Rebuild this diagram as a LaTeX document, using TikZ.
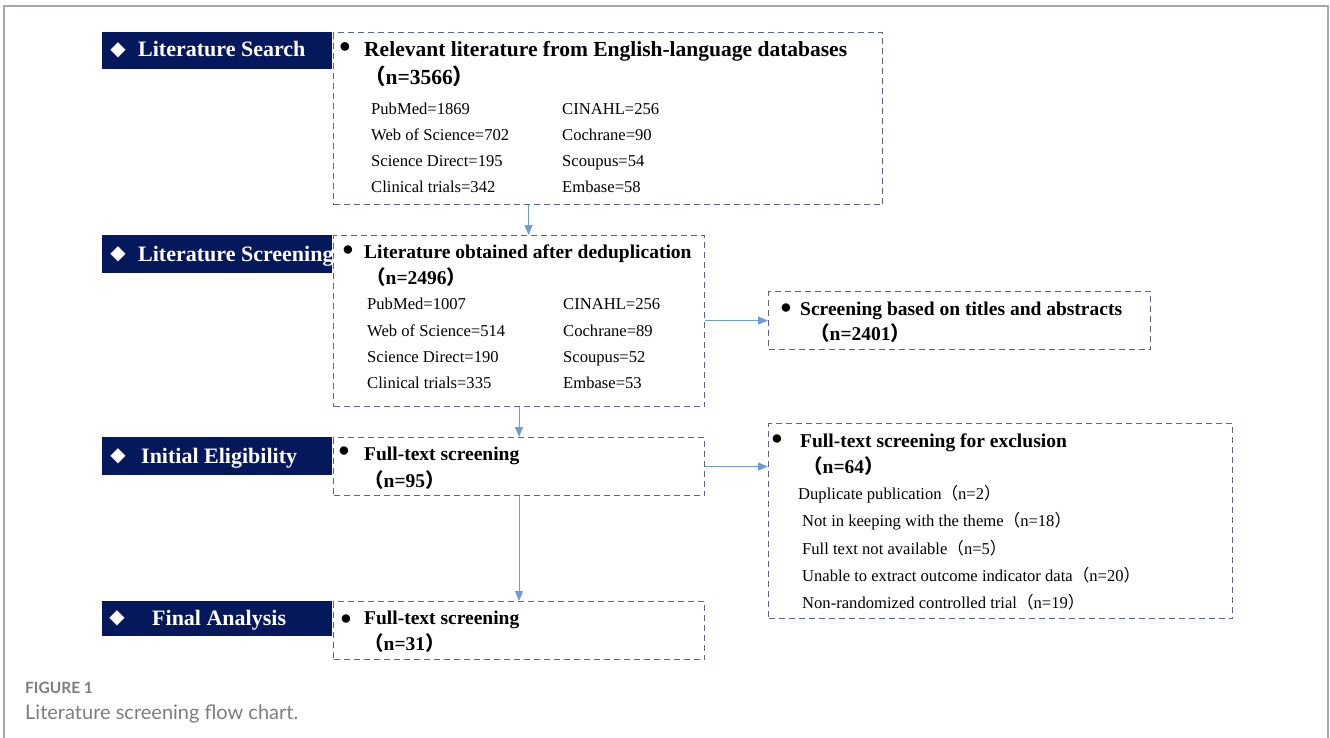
\documentclass[tikz,border=0pt]{standalone}
\usepackage{fontspec}
\setmainfont{Liberation Serif}
\newfontfamily\symfont{DejaVu Sans}
\newfontfamily\cjk{Noto Sans CJK SC}
\newfontfamily\capfont{Lato}
\usetikzlibrary{arrows.meta}
\definecolor{barblue}{RGB}{6,24,92}
\definecolor{dashblue}{RGB}{88,100,150}
\definecolor{arrowblue}{RGB}{112,156,214}
\definecolor{framegray}{RGB}{165,165,174}
\definecolor{capgray}{RGB}{125,125,125}
\newcommand{\fp}[1]{{\cjk （}#1{\cjk ）}}
\tikzset{%
  mybar/.style={fill=barblue, anchor=north west, minimum width=230, inner sep=0},
  mybox/.style={draw=dashblue, dash pattern=on 6pt off 4pt, line width=1.1pt, anchor=north west, inner sep=0},
  myedge/.style={-{Triangle[length=10pt,width=8pt]}, draw=arrowblue, fill=arrowblue, line width=1.1pt},
  mydiamond/.style={text=white, font=\symfont\fontsize{20}{24}\selectfont, inner sep=0},
  bartext/.style={anchor=base west, text=white, font=\fontsize{22}{26}\selectfont\bfseries, inner sep=0},
  headtext/.style={anchor=base west, font=\fontsize{19.5}{23}\selectfont\bfseries, inner sep=0},
  rowtext/.style={anchor=base west, font=\fontsize{16.6}{19}\selectfont, inner sep=0},
  mybullet/.style={font=\fontsize{19.5}{23}\selectfont, inner sep=0}
}
\begin{document}
\begin{tikzpicture}[x=1pt, y=-1pt]
\useasboundingbox (0,0) rectangle (1330,738);
\draw [framegray, line width=1.5pt] (4,738) -- (4,6) -- (1328,6) -- (1328,738);

\node (bsearch) [mybar, minimum height=37] at (102,32) {};
\node (bscreen) [mybar, minimum height=38] at (102,235) {};
\node (belig) [mybar, minimum height=38] at (102,437) {};
\node (bfinal) [mybar, minimum height=35] at (102,601) {};

\node (dsearch) [mydiamond] at (118,50) {◆};
\node (dscreen) [mydiamond] at (118,254) {◆};
\node (delig) [mydiamond] at (118,456) {◆};
\node (dfinal) [mydiamond] at (117,618) {◆};

\node (lsearch) [bartext] at (138,57) {Literature Search};
\node (lscreen) [bartext] at (138,261) {Literature Screening};
\node (lelig) [bartext] at (141,463) {Initial Eligibility};
\node (lfinal) [bartext] at (152,625) {Final Analysis};

\node (search) [mybox, minimum width=549, minimum height=172] at (333,32) {};
\node (dedup) [mybox, minimum width=371, minimum height=171] at (333,235) {};
\node (titles) [mybox, minimum width=382, minimum height=58] at (768,291) {};
\node (elig) [mybox, minimum width=371, minimum height=58] at (333,437) {};
\node (excl) [mybox, minimum width=464, minimum height=195] at (768,423) {};
\node (final) [mybox, minimum width=371, minimum height=58] at (333,601) {};

% box texts
\node (u1) [mybullet, font=\fontsize{32}{36}\selectfont\bfseries] at (345,50) {•};
\node (h1) [headtext, font=\fontsize{21.5}{25}\selectfont\bfseries] at (364,57) {Relevant literature from English-language databases};
\node (n1) [headtext, font=\fontsize{21.5}{25}\selectfont\bfseries] at (364,85) {\fp{n=3566}};
\foreach \t [count=\k] in {PubMed=1869, Web of Science=702, Science Direct=195, Clinical trials=342}
  \node (sa\k) [rowtext] at (371,{88.5+26*\k}) {\t};
\foreach \t [count=\k] in {CINAHL=256, Cochrane=90, Scoupus=54, Embase=58}
  \node (sb\k) [rowtext] at (562,{88.5+26*\k}) {\t};

\node (u2) [mybullet] at (348,251) {●};
\node (h2) [headtext] at (364,258) {Literature obtained after deduplication};
\node (n2) [headtext] at (366,284) {\fp{n=2496}};
\foreach \t [count=\k] in {PubMed=1007, Web of Science=514, Science Direct=190, Clinical trials=335}
  \node (da\k) [rowtext] at (367,{283.5+26.3*\k}) {\t};
\foreach \t [count=\k] in {CINAHL=256, Cochrane=89, Scoupus=52, Embase=53}
  \node (db\k) [rowtext] at (563,{283.5+26.3*\k}) {\t};

\node (u3) [mybullet] at (786,309) {●};
\node (h3) [headtext] at (800,315) {Screening based on titles and abstracts};
\node (n3) [headtext] at (810,340) {\fp{n=2401}};

\node (u4) [mybullet] at (344,452) {●};
\node (h4) [headtext] at (364,460) {Full-text screening};
\node (n4) [headtext] at (364,487) {\fp{n=95}};

\node (u5) [mybullet] at (777,440) {●};
\node (h5) [headtext] at (800,447) {Full-text screening for exclusion};
\node (n5) [headtext] at (803,473) {\fp{n=64}};
\node (ea1) [rowtext] at (798,499.5) {Duplicate publication\fp{n=2}};
\foreach \t [count=\k from 2] in {Not in keeping with the theme\fp{n=18}, Full text not available\fp{n=5}, Unable to extract outcome indicator data\fp{n=20}, Non-randomized controlled trial\fp{n=19}}
  \node (ea\k) [rowtext] at (802,{472.5+27.2*\k}) {\t};

\node (u6) [mybullet] at (346,620) {●};
\node (h6) [headtext] at (364,624) {Full-text screening};
\node (n6) [headtext] at (364,650) {\fp{n=31}};

\coordinate (a1) at ([xshift=9.5]dedup.north);
\draw [myedge] (search.south -| a1) -- (a1);
\draw [myedge] (dedup.east |- titles.west) -- (titles.west);
\draw [myedge] (dedup.south) -- (elig.north);
\draw [myedge] (elig.east) -- (elig.east -| excl.west);
\draw [myedge] (elig.south) -- (final.north);

\node (fig) [anchor=base west, inner sep=0, text=capgray, font=\capfont\bfseries\fontsize{15.5}{18}\selectfont] at (25,693) {FIGURE 1};
\node (cap) [anchor=base west, inner sep=0, text=capgray, font=\capfont\fontsize{20}{24}\selectfont] at (25,719) {Literature screening flow chart.};
\end{tikzpicture}
\end{document}
